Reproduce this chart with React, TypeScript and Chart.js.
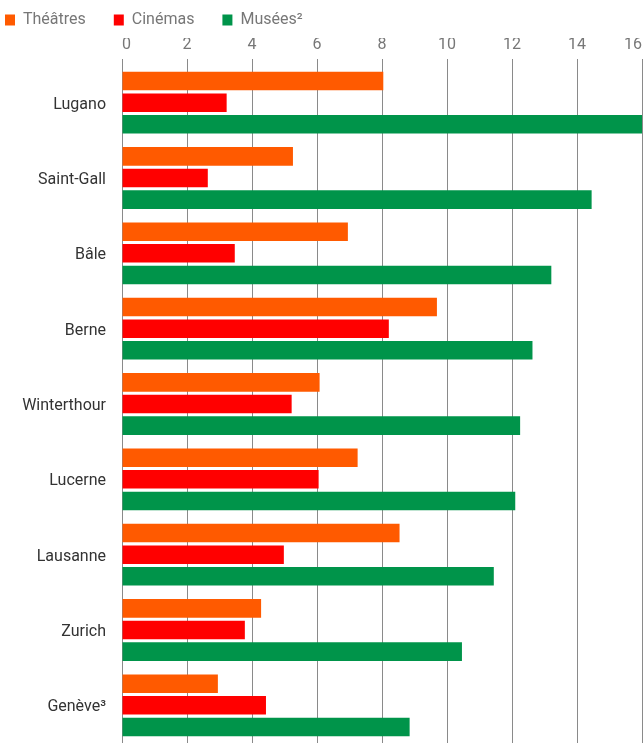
import React, { useEffect, useRef } from "react";
import { Chart, registerables } from "chart.js";

Chart.register(...registerables);

const categories = ["Lugano", "Saint-Gall", "Bâle", "Berne", "Winterthour", "Lucerne", "Lausanne", "Zurich", "Genève³"];
const theatres = [8.04, 5.26, 6.95, 9.69, 6.08, 7.25, 8.54, 4.28, 2.95];
const cinemas = [3.22, 2.64, 3.47, 8.21, 5.22, 6.05, 4.98, 3.78, 4.43];
const musees = [16.0, 14.45, 13.21, 12.63, 12.25, 12.1, 11.44, 10.46, 8.85];
const seriesNames = ["Théâtres", "Cinémas", "Musées²"];
const seriesColors = ["#FF5A00", "#FF0000", "#00944A"];
const xMin = 0;
const xMax = 16;
const xStep = 2;

export default function App() {
  const ref = useRef<HTMLCanvasElement | null>(null);

  useEffect(() => {
    document.body.style.margin = "0";
    const canvas = ref.current;
    if (!canvas) return;
    Chart.defaults.font.family = "Roboto";
    const values = [theatres, cinemas, musees];
    const chart = new Chart(canvas, {
      type: "bar",
      data: {
        labels: categories,
        datasets: values.map((v, i) => ({
          label: seriesNames[i],
          data: v,
          backgroundColor: seriesColors[i],
          borderWidth: 0,
          categoryPercentage: 0.86,
          barPercentage: 0.86,
        })),
      },
      options: {
        indexAxis: "y",
        animation: false,
        responsive: false,
        maintainAspectRatio: false,
        layout: { padding: { left: -23, top: -16, right: 1, bottom: 0 } },
        plugins: {
          tooltip: { enabled: false },
          legend: {
            position: "top",
            align: "start",
            labels: {
              boxWidth: 10,
              boxHeight: 11,
              padding: 28,
              color: "#777777",
              font: { size: 16, family: "Roboto" },
            },
          },
        },
        scales: {
          x: {
            position: "top",
            min: xMin,
            max: xMax,
            ticks: {
              stepSize: xStep,
              color: "#777777",
              font: { size: 16, family: "Roboto" },
              padding: 4,
              align: "inner",
              maxRotation: 0,
            },
            grid: {
              color: "#8a8a8a",
              lineWidth: 1,
              drawTicks: true,
              tickLength: 6,
            },
            border: { display: false },
            afterFit: (scale: any) => {
              scale.height = 27;
              scale.paddingLeft = 0;
              scale.paddingRight = 0;
            },
          },
          y: {
            ticks: {
              color: "#333333",
              font: { size: 16, family: "Roboto" },
              padding: 16,
              labelOffset: 2,
            },
            grid: { display: false, drawTicks: false },
            border: { display: false },
            afterFit: (scale: any) => {
              scale.width = 145;
              scale.paddingTop = 0;
              scale.paddingBottom = 0;
            },
          },
        },
      },
    });
    return () => chart.destroy();
  }, []);

  return (
    <div style={{ width: 643, height: 743 }}>
      <canvas ref={ref} width={643} height={743} style={{ display: "block" }} />
    </div>
  );
}
